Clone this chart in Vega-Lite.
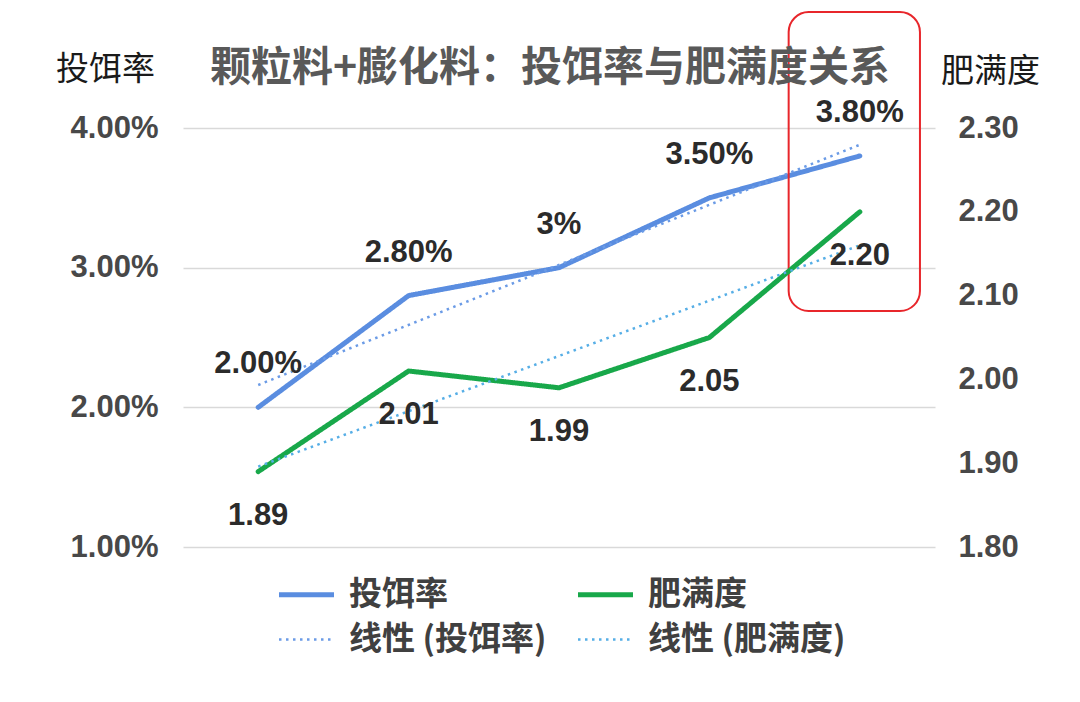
{
  "$schema": "https://vega.github.io/schema/vega-lite/v6.json",
  "width": 752,
  "height": 419,
  "autosize": {"type": "none"},
  "padding": {"left": 183, "top": 128, "right": 145, "bottom": 155},
  "background": "white",
  "config": {"view": {"stroke": null}, "font": "Liberation Sans"},
  "title": {
    "text": "颗粒料+膨化料：投饵率与肥满度关系",
    "font": "Noto Sans CJK SC",
    "fontSize": 41,
    "fontWeight": "bold",
    "color": "#595959",
    "anchor": "middle",
    "frame": "group",
    "offset": -79,
    "dx": -9
  },
  "datasets": {
    "rate": [
      {"idx": 1, "value": 0.02, "label": "2.00%"},
      {"idx": 2, "value": 0.028, "label": "2.80%"},
      {"idx": 3, "value": 0.03, "label": "3%"},
      {"idx": 4, "value": 0.035, "label": "3.50%"},
      {"idx": 5, "value": 0.038, "label": "3.80%"}
    ],
    "fat": [
      {"idx": 1, "value": 1.89},
      {"idx": 2, "value": 2.01},
      {"idx": 3, "value": 1.99},
      {"idx": 4, "value": 2.05},
      {"idx": 5, "value": 2.2}
    ],
    "box": [{"x1": 4.527, "x2": 5.4, "y1": 0.0483, "y2": 0.0269}]
  },
  "layer": [
    {
      "layer": [
        {
          "data": {"name": "rate"},
          "mark": {"type": "line", "strokeWidth": 5, "strokeCap": "round", "strokeJoin": "round"},
          "encoding": {
            "x": {"field": "idx", "type": "quantitative", "scale": {"domain": [0.5, 5.5], "nice": false, "zero": false}, "axis": null},
            "y": {
              "field": "value", "type": "quantitative",
              "scale": {"domain": [0.01, 0.04], "nice": false, "zero": false},
              "axis": {
                "orient": "left", "values": [0.01, 0.02, 0.03, 0.04], "format": ".2%",
                "grid": true, "gridColor": "#d9d9d9", "gridWidth": 1.5,
                "domain": false, "ticks": false,
                "labelFont": "Liberation Sans", "labelFontSize": 31, "labelFontWeight": "bold", "labelColor": "#484848", "labelPadding": 25,
                "title": "投饵率", "titleFont": "Noto Sans CJK SC", "titleFontSize": 33, "titleFontWeight": "normal", "titleColor": "#1a1a1a",
                "titleAngle": 0, "titleX": -78, "titleY": -59, "titleAlign": "center", "titleBaseline": "middle"
              }
            },
            "color": {
              "datum": "投饵率", "type": "nominal",
              "scale": {
                "domain": ["投饵率", "肥满度", "线性 (投饵率)", "线性 (肥满度)"],
                "range": ["#5a8de0", "#18a84a", "#6b9be6", "#56aee6"]
              },
              "legend": {
                "title": null, "orient": "none", "legendX": 107, "legendY": 450, "direction": "horizontal",
                "columns": 2, "columnPadding": 21, "rowPadding": 11,
                "symbolType": "stroke", "symbolSize": 3025, "symbolStrokeWidth": 4,
                "labelFont": "Noto Sans CJK SC", "labelFontSize": 33, "labelFontWeight": "bold", "labelColor": "#404040",
                "labelOffset": 26, "labelLimit": 400,
                "encode": {
                  "symbols": {
                    "update": {
                      "strokeWidth": {"signal": "datum.value === '投饵率' || datum.value === '肥满度' ? 5 : 2.5"}
                    }
                  }
                }
              }
            },
            "strokeDash": {
              "datum": "投饵率", "type": "nominal",
              "scale": {
                "domain": ["投饵率", "肥满度", "线性 (投饵率)", "线性 (肥满度)"],
                "range": [[1, 0], [1, 0], [2.5, 4.5], [2.5, 4.5]]
              }
            }
          }
        },
        {
          "data": {"name": "rate"},
          "transform": [{"regression": "value", "on": "idx"}],
          "mark": {"type": "line", "strokeWidth": 2.5},
          "encoding": {
            "x": {"field": "idx", "type": "quantitative", "scale": {"domain": [0.5, 5.5], "nice": false, "zero": false}, "axis": null},
            "y": {"field": "value", "type": "quantitative", "scale": {"domain": [0.01, 0.04], "nice": false, "zero": false}},
            "color": {"datum": "线性 (投饵率)", "type": "nominal"},
            "strokeDash": {"datum": "线性 (投饵率)", "type": "nominal"}
          }
        },
        {
          "data": {"name": "rate"},
          "mark": {"type": "text", "font": "Liberation Sans", "fontSize": 31, "fontWeight": "bold", "color": "#2b2b2b", "dy": -43, "baseline": "middle", "align": "center"},
          "encoding": {
            "x": {"field": "idx", "type": "quantitative", "scale": {"domain": [0.5, 5.5], "nice": false, "zero": false}, "axis": null},
            "y": {"field": "value", "type": "quantitative", "scale": {"domain": [0.01, 0.04], "nice": false, "zero": false}},
            "text": {"field": "label"}
          }
        },
        {
          "data": {"name": "box"},
          "mark": {"type": "rect", "filled": false, "stroke": "#e8262b", "strokeWidth": 2, "cornerRadius": 20},
          "encoding": {
            "x": {"field": "x1", "type": "quantitative", "scale": {"domain": [0.5, 5.5], "nice": false, "zero": false}, "axis": null},
            "x2": {"field": "x2"},
            "y": {"field": "y1", "type": "quantitative", "scale": {"domain": [0.01, 0.04], "nice": false, "zero": false}},
            "y2": {"field": "y2"}
          }
        }
      ]
    },
    {
      "layer": [
        {
          "data": {"name": "fat"},
          "mark": {"type": "line", "strokeWidth": 5, "strokeCap": "round", "strokeJoin": "round"},
          "encoding": {
            "x": {"field": "idx", "type": "quantitative", "scale": {"domain": [0.5, 5.5], "nice": false, "zero": false}, "axis": null},
            "y": {
              "field": "value", "type": "quantitative",
              "scale": {"domain": [1.8, 2.3], "nice": false, "zero": false},
              "axis": {
                "orient": "right", "values": [1.8, 1.9, 2.0, 2.1, 2.2, 2.3], "format": ".2f",
                "grid": false, "domain": false, "ticks": false,
                "labelFont": "Liberation Sans", "labelFontSize": 31, "labelFontWeight": "bold", "labelColor": "#484848", "labelPadding": 23,
                "title": "肥满度", "titleFont": "Noto Sans CJK SC", "titleFontSize": 33, "titleFontWeight": "normal", "titleColor": "#1a1a1a",
                "titleAngle": 0, "titleX": 55, "titleY": -57, "titleAlign": "center", "titleBaseline": "middle"
              }
            },
            "color": {"datum": "肥满度", "type": "nominal"},
            "strokeDash": {"datum": "肥满度", "type": "nominal"}
          }
        },
        {
          "data": {"name": "fat"},
          "transform": [{"regression": "value", "on": "idx"}],
          "mark": {"type": "line", "strokeWidth": 2.5},
          "encoding": {
            "x": {"field": "idx", "type": "quantitative", "scale": {"domain": [0.5, 5.5], "nice": false, "zero": false}, "axis": null},
            "y": {"field": "value", "type": "quantitative", "scale": {"domain": [1.8, 2.3], "nice": false, "zero": false}},
            "color": {"datum": "线性 (肥满度)", "type": "nominal"},
            "strokeDash": {"datum": "线性 (肥满度)", "type": "nominal"}
          }
        },
        {
          "data": {"name": "fat"},
          "mark": {"type": "text", "font": "Liberation Sans", "fontSize": 31, "fontWeight": "bold", "color": "#2b2b2b", "dy": 44, "baseline": "middle", "align": "center"},
          "encoding": {
            "x": {"field": "idx", "type": "quantitative", "scale": {"domain": [0.5, 5.5], "nice": false, "zero": false}, "axis": null},
            "y": {"field": "value", "type": "quantitative", "scale": {"domain": [1.8, 2.3], "nice": false, "zero": false}},
            "text": {"field": "value", "format": ".2f"}
          }
        }
      ]
    }
  ],
  "resolve": {"scale": {"y": "independent"}}
}
